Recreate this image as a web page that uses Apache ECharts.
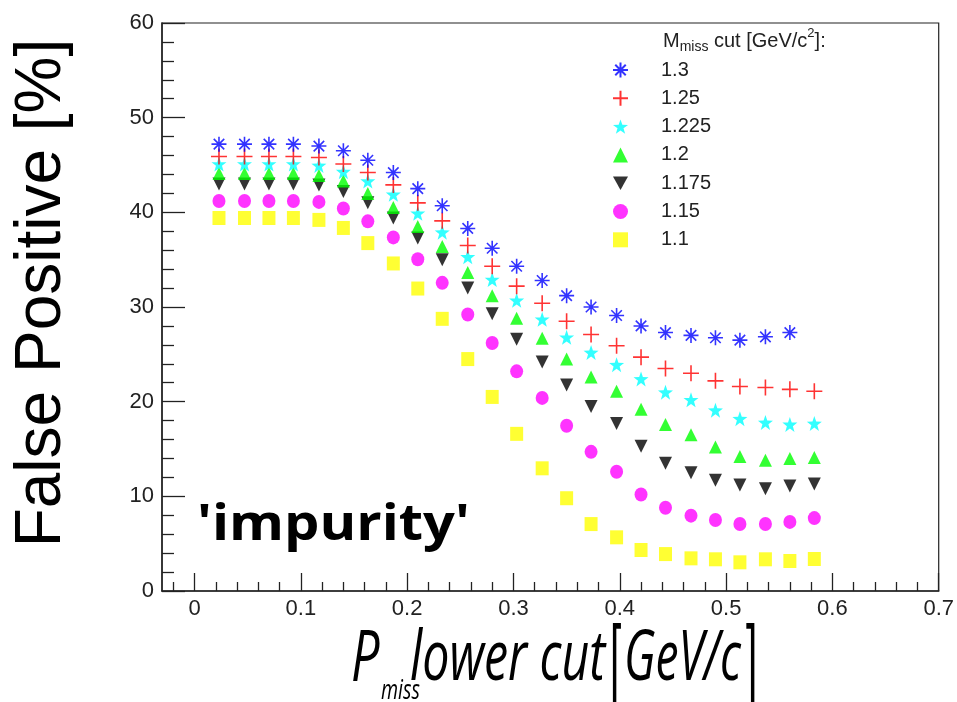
<!DOCTYPE html>
<html>
<head>
<meta charset="utf-8">
<script src="https://cdn.jsdelivr.net/npm/echarts@6/dist/echarts.min.js"></script>
<style>html,body{margin:0;padding:0;background:#fff}#c{width:957px;height:702px}</style>
</head>
<body>
<div id="c"></div>
<script>
// P_miss lower cut values [GeV/c]
var pmiss = [0.023,0.047,0.070,0.093,0.117,0.140,0.163,0.187,0.210,0.233,0.257,0.280,0.303,0.327,0.350,0.373,0.397,0.420,0.443,0.467,0.490,0.513,0.537,0.560,0.583];
// False positive [%] per M_miss cut
var cut130  = [47.2,47.2,47.2,47.2,47.0,46.5,45.5,44.2,42.5,40.7,38.3,36.2,34.3,32.8,31.2,30.0,29.1,28.0,27.3,27.0,26.75,26.5,26.85,27.3];
var cut125  = [45.9,45.9,45.9,45.9,45.8,45.1,44.2,42.9,41.0,39.1,36.5,34.3,32.2,30.4,28.5,27.1,25.9,24.7,23.5,23.0,22.2,21.6,21.5,21.3,21.1];
var cut1225 = [45.1,45.1,45.1,45.1,44.95,44.3,43.3,41.9,39.9,37.9,35.3,32.9,30.7,28.7,26.8,25.2,23.9,22.4,21.0,20.2,19.1,18.2,17.8,17.6,17.7];
var cut120  = [44.1,44.1,44.1,44.1,43.9,43.3,42.0,40.5,38.5,36.4,33.65,31.2,28.8,26.7,24.5,22.6,21.1,19.2,17.6,16.5,15.2,14.2,13.8,14.0,14.1];
var cut1175 = [43.0,43.0,43.0,43.0,42.9,42.2,41.0,39.4,37.3,35.0,32.0,29.3,26.6,24.2,21.75,19.5,17.7,15.3,13.5,12.5,11.7,11.2,10.8,11.1,11.3];
var cut115  = [41.2,41.2,41.2,41.2,41.1,40.4,39.05,37.35,35.05,32.55,29.2,26.2,23.2,20.4,17.45,14.7,12.6,10.2,8.8,7.96,7.5,7.07,7.07,7.3,7.7];
var cut110  = [39.4,39.4,39.4,39.4,39.2,38.35,36.75,34.6,31.95,28.75,24.5,20.5,16.6,12.96,9.8,7.07,5.67,4.33,3.9,3.45,3.35,3.03,3.35,3.17,3.38];
var seriesNames = ['1.3','1.25','1.225','1.2','1.175','1.15','1.1'];
// axis ticks
var xMajor = [0,0.1,0.2,0.3,0.4,0.5,0.6,0.7];
var xMinor = [-0.02,0.02,0.04,0.06,0.08,0.12,0.14,0.16,0.18,0.22,0.24,0.26,0.28,0.32,0.34,0.36,0.38,0.42,0.44,0.46,0.48,0.52,0.54,0.56,0.58,0.62,0.64,0.66,0.68];

function pairs(ys){ var out=[]; for(var i=0;i<ys.length;i++){ out.push([pmiss[i], ys[i]]); } return out; }

var SANS = '"Liberation Sans", Arial, sans-serif';
var starPath = 'path://M5,0L6.176,3.382L9.755,3.455L6.902,5.618L7.939,9.045L5,7L2.061,9.045L3.098,5.618L0.245,3.455L3.824,3.382Z';
var asterPath = 'path://M0,5L10,5M5,0L5,10M1.5,1.5L8.5,8.5M8.5,1.5L1.5,8.5';
var plusPath = 'path://M0,5L10,5M5,0L5,10';
var downTri = 'path://M0,0L10,0L5,9Z';

var styles = [
  {data: cut130,  symbol: asterPath, size: 15, item: {color: 'rgba(0,0,0,0)', borderColor: '#0000ff', borderWidth: 1.6}},
  {data: cut125,  symbol: plusPath,  size: 16, item: {color: 'rgba(0,0,0,0)', borderColor: '#ff0000', borderWidth: 1.6}},
  {data: cut1225, symbol: starPath,  size: 15, item: {color: '#00ffff'}},
  {data: cut120,  symbol: 'triangle', size: [13,13], item: {color: '#00ff00'}},
  {data: cut1175, symbol: downTri,   size: [13,13], item: {color: '#000000'}},
  {data: cut115,  symbol: 'circle',  size: [13,14], item: {color: '#ff00ff'}},
  {data: cut110,  symbol: 'rect',    size: [13,14], item: {color: '#ffff00'}}
];

var series = styles.map(function(s, i){
  return {
    name: seriesNames[i], type: 'scatter', xAxisIndex: 0, yAxisIndex: 0,
    data: pairs(s.data), symbol: s.symbol, symbolSize: s.size,
    itemStyle: s.item, z: 10 - i, silent: true, animation: false
  };
});

var chart = echarts.init(document.getElementById('c'), null, {renderer: 'canvas'});
chart.setOption({
  animation: false,
  backgroundColor: '#fff',
  grid: {left: 162, right: 16, top: 23, bottom: 111, show: true, borderColor: '#222', borderWidth: 1.2, backgroundColor: 'transparent'},
  xAxis: [
    {type: 'value', min: -0.0306, max: 0.7, position: 'bottom',
     axisLine: {show: true, onZero: false, lineStyle: {color: '#222', width: 1.5}},
     axisTick: {show: true, inside: true, length: 18, customValues: xMajor, lineStyle: {color: '#222', width: 1.3}},
     axisLabel: {show: true, customValues: xMajor, margin: 7, color: '#222', fontSize: 22, fontFamily: SANS,
                 formatter: function(v){ return String(Math.round(v*10)/10); }},
     splitLine: {show: false}},
    {type: 'value', min: -0.0306, max: 0.7, position: 'bottom', offset: 0,
     axisLine: {show: false, onZero: false},
     axisTick: {show: true, inside: true, length: 9, customValues: xMinor, lineStyle: {color: '#222', width: 1.3}},
     axisLabel: {show: false}, splitLine: {show: false}}
  ],
  yAxis: {type: 'value', min: 0, max: 60, interval: 10, position: 'left',
     axisLine: {show: true, onZero: false, lineStyle: {color: '#222', width: 1.5}},
     axisTick: {show: true, inside: true, length: 23, lineStyle: {color: '#222', width: 1.3}},
     minorTick: {show: true, splitNumber: 5, length: 12, lineStyle: {color: '#222', width: 1.3}},
     axisLabel: {margin: 8, color: '#222', fontSize: 22, fontFamily: SANS},
     splitLine: {show: false}, minorSplitLine: {show: false}},
  legend: {
    orient: 'vertical', left: 607, top: 55, itemWidth: 15, itemHeight: 15, itemGap: 8.3,
    data: seriesNames, selectedMode: false,
    textStyle: {fontSize: 20, fontFamily: SANS, color: '#222', padding: [0,0,0,28], lineHeight: 20, height: 20}
  },
  title: {
    text: '{m|M}{s|miss}{m| cut [GeV/c}{sup|2}{m|]:}',
    left: 658, top: 22,
    textStyle: {fontWeight: 'normal', rich: {
      m: {fontSize: 20, fontFamily: SANS, fontWeight: 'normal', color: '#222', verticalAlign: 'bottom', lineHeight: 24},
      s: {fontSize: 14, fontFamily: SANS, fontWeight: 'normal', color: '#222', verticalAlign: 'bottom', lineHeight: 18, padding: [0,0,-3,0]},
      sup: {fontSize: 13, fontFamily: SANS, fontWeight: 'normal', color: '#222', verticalAlign: 'top', lineHeight: 14, padding: [0,0,8,0]}
    }}
  },
  graphic: [
    {type: 'text', x: 42, y: 293, rotation: Math.PI/2, silent: true,
     style: {text: 'False Positive [%]', font: '64px "Liberation Sans", Arial, sans-serif', fill: '#000', textAlign: 'center', textVerticalAlign: 'middle'}},
    {type: 'text', x: 197, y: 526, scaleX: 1.12, silent: true,
     style: {text: "'impurity'", font: 'bold 50px "Open Sans", sans-serif', fill: '#000', textAlign: 'left', textVerticalAlign: 'middle'}},
    {type: 'text', x: 351, y: 660, scaleX: 0.7, silent: true,
     style: {text: 'P', font: 'italic 72px "Open Sans", sans-serif', fill: '#000', textAlign: 'left', textVerticalAlign: 'middle'}},
    {type: 'text', x: 381, y: 691, scaleX: 0.7, silent: true,
     style: {text: 'miss', font: 'italic 28px "Open Sans", sans-serif', fill: '#000', textAlign: 'left', textVerticalAlign: 'middle'}},
    {type: 'text', x: 410, y: 660, scaleX: 0.69, silent: true,
     style: {text: 'lower cut', font: 'italic 70px "Open Sans", sans-serif', fill: '#000', textAlign: 'left', textVerticalAlign: 'middle'}},
    {type: 'text', x: 610, y: 664, scaleX: 0.45, silent: true,
     style: {text: '[', font: '90px "Liberation Sans", sans-serif', fill: '#000', textAlign: 'left', textVerticalAlign: 'middle'}},
    {type: 'text', x: 624, y: 660, scaleX: 0.66, silent: true,
     style: {text: 'GeV/c', font: 'italic 70px "Open Sans", sans-serif', fill: '#000', textAlign: 'left', textVerticalAlign: 'middle'}},
    {type: 'text', x: 746, y: 664, scaleX: 0.45, silent: true,
     style: {text: ']', font: '90px "Liberation Sans", sans-serif', fill: '#000', textAlign: 'left', textVerticalAlign: 'middle'}}
  ],
  series: series
});
</script>
</body>
</html>
